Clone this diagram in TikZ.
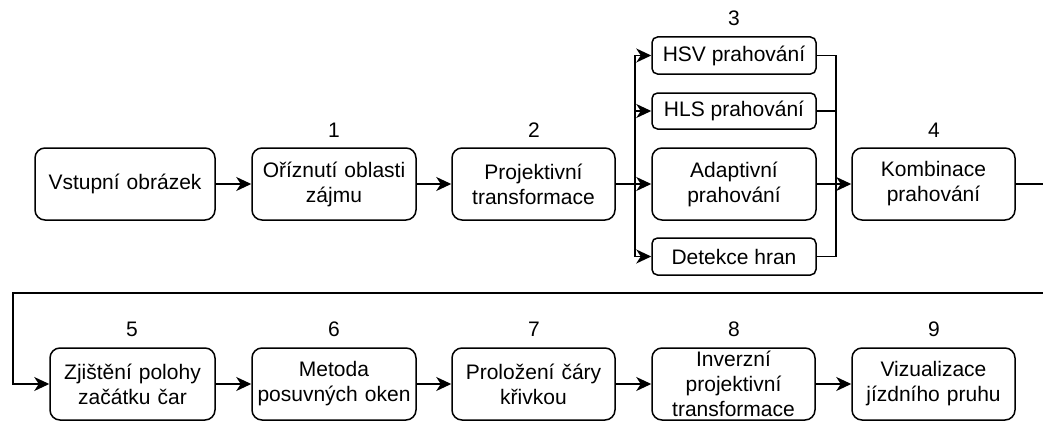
\documentclass[tikz,border=0pt]{standalone}
\usepackage{fontspec}
\setmainfont{Liberation Sans}
\usetikzlibrary{arrows.meta}
\tikzset{
  box/.style={draw=black, line width=1.5pt, rounded corners=10pt, align=center, inner sep=0pt,
    minimum height=72pt, text width=#1pt, minimum width=#1pt, font=\fontsize{21}{25}\selectfont},
  sbox/.style={draw=black, line width=1.5pt, rounded corners=5.5pt, align=center, inner sep=0pt,
    minimum height=37pt, minimum width=164pt, font=\fontsize{21}{25}\selectfont},
  num/.style={font=\fontsize{21}{25}\selectfont, inner sep=0pt},
  conn/.style={line width=1.6pt, draw=black},
  arr/.style={conn, -{Stealth[length=15pt,width=14pt,inset=4.5pt]}},
}
\begin{document}
\begin{tikzpicture}[x=1pt,y=-1pt]
\path[use as bounding box, clip] (0,0) rectangle (1043,420);
% top row
\node[box=180] (v) at (125,184) {Vstupní obrázek};
\node[box=164] (n1) at (334,184) {Oříznutí oblasti\\zájmu};
\node[box=163] (n2) at (533.5,184) {Projektivní\\transformace};
\node[sbox] (hsv) at (734,55.5) {HSV prahování};
\node[sbox, minimum height=36pt] (hls) at (734,111) {HLS prahování};
\node[box=164] (ad) at (734,184) {Adaptivní\\prahování};
\node[sbox] (det) at (734,256.5) {Detekce hran};
\node[box=163] (k) at (933.5,184) {Kombinace\\prahování};
% bottom row
\node[box=165] (b5) at (132.5,384) {Zjištění polohy\\začátku čar};
\node[box=164] (b6) at (334,384) {Metoda\\posuvných oken};
\node[box=163] (b7) at (533.5,384) {Proložení čáry\\křivkou};
\node[box=163] (b8) at (733.5,384) {Inverzní\\projektivní\\transformace};
\node[box=163] (b9) at (933.5,384) {Vizualizace\\jízdního pruhu};
% numbers
\node[num] (l1) at (334,130) {1};
\node[num] (l2) at (534,130) {2};
\node[num] (l3) at (734,18) {3};
\node[num] (l4) at (934,130) {4};
\node[num] (l5) at (132,329) {5};
\node[num] (l6) at (334,329) {6};
\node[num] (l7) at (534,329) {7};
\node[num] (l8) at (734,329) {8};
\node[num] (l9) at (934,329) {9};
% coordinates
\coordinate (fan) at (635,184);
\coordinate (mrg) at (836,184);
\coordinate (r1) at (1060,184);
\coordinate (r2) at (1060,293);
\coordinate (lft) at (13,293);
% connectors
\draw[arr] (v) -- (n1);
\draw[arr] (n1) -- (n2);
\draw[conn] (n2) -- (fan);
\draw[arr] (fan) |- (hsv.west);
\draw[arr] (fan) |- (hls.west);
\draw[arr] (fan) -- (ad.west);
\draw[arr] (fan) |- (det.west);
\draw[conn] (hsv.east) -| (mrg);
\draw[conn] (hls.east) -| (mrg);
\draw[conn] (det.east) -| (mrg);
\draw[conn] (ad.east) -- (mrg);
\draw[arr] (mrg) -- (k.west);
\draw[arr] (k.east) -- (r1) -- (r2) -- (lft) |- (b5.west);
\draw[arr] (b5) -- (b6);
\draw[arr] (b6) -- (b7);
\draw[arr] (b7) -- (b8);
\draw[arr] (b8) -- (b9);
\end{tikzpicture}
\end{document}
